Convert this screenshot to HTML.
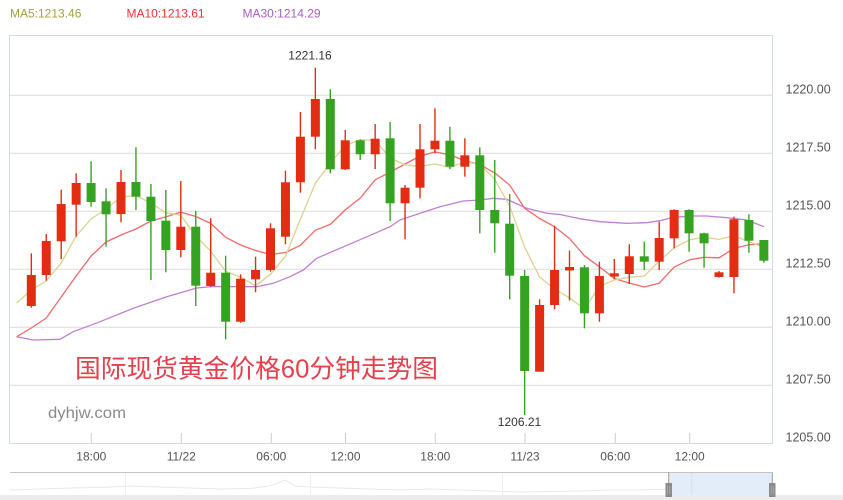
<!DOCTYPE html>
<html>
<head>
<meta charset="utf-8">
<style>
html,body{margin:0;padding:0;background:#fff;}
svg{display:block;}
text{font-family:"Liberation Sans","Noto Sans CJK SC",sans-serif;}
</style>
</head>
<body>
<svg width="843" height="500" viewBox="0 0 843 500" xmlns="http://www.w3.org/2000/svg">
<rect x="0" y="0" width="843" height="500" fill="#fff"/>

<!-- legend -->
<text x="10" y="17.3" font-size="12" fill="#a3a33c">MA5:1213.46</text>
<text x="126.5" y="17.3" font-size="12" fill="#f03232">MA10:1213.61</text>
<text x="242.5" y="17.3" font-size="12" fill="#ad5ec0">MA30:1214.29</text>

<!-- grid -->
<g stroke="#dcdcdc" stroke-width="1">
<line x1="10" y1="95.3" x2="772" y2="95.3"/>
<line x1="10" y1="153.3" x2="772" y2="153.3"/>
<line x1="10" y1="211.3" x2="772" y2="211.3"/>
<line x1="10" y1="269.3" x2="772" y2="269.3"/>
<line x1="10" y1="327.3" x2="772" y2="327.3"/>
<line x1="10" y1="385.3" x2="772" y2="385.3"/>
</g>
<rect x="9.5" y="35.5" width="763" height="408" fill="none" stroke="#d3dae3" stroke-width="1"/>

<!-- x ticks -->
<g stroke="#cccccc" stroke-width="1">
<line x1="91.3" y1="433" x2="91.3" y2="443"/>
<line x1="181.3" y1="433" x2="181.3" y2="443"/>
<line x1="271.3" y1="433" x2="271.3" y2="443"/>
<line x1="345.5" y1="433" x2="345.5" y2="443"/>
<line x1="435.3" y1="433" x2="435.3" y2="443"/>
<line x1="525" y1="433" x2="525" y2="443"/>
<line x1="615.3" y1="433" x2="615.3" y2="443"/>
<line x1="689.7" y1="433" x2="689.7" y2="443"/>
</g>

<!-- y labels -->
<g font-size="12.5" fill="#555">
<text x="785.5" y="93.3">1220.00</text>
<text x="785.5" y="151.5">1217.50</text>
<text x="785.5" y="209.5">1215.00</text>
<text x="785.5" y="267.5">1212.50</text>
<text x="785.5" y="325.5">1210.00</text>
<text x="785.5" y="383.5">1207.50</text>
<text x="785.5" y="441.5">1205.00</text>
</g>

<!-- x labels -->
<g font-size="12" fill="#555" text-anchor="middle">
<text x="91.3" y="460.7">18:00</text>
<text x="181.3" y="460.7">11/22</text>
<text x="271.3" y="460.7">06:00</text>
<text x="345.5" y="460.7">12:00</text>
<text x="435.3" y="460.7">18:00</text>
<text x="525" y="460.7">11/23</text>
<text x="615.3" y="460.7">06:00</text>
<text x="689.7" y="460.7">12:00</text>
</g>

<!-- watermark texts -->
<text x="75" y="377.5" font-size="25.7" fill="#e6404c" textLength="363" lengthAdjust="spacingAndGlyphs">国际现货黄金价格60分钟走势图</text>
<text x="48" y="418" font-size="16" fill="#8a8a8a" textLength="78" lengthAdjust="spacingAndGlyphs">dyhjw.com</text>

<!-- MA30 -->
<polyline fill="none" stroke="#c27fd2" stroke-width="1.3" stroke-linejoin="round" points="16.7,336.7 33.3,340 60,339.3 73.3,331.7 100,321.7 133.3,308.3 166.7,296.7 196.7,288 213.3,286.5 240,286.7 256.7,286.7 273.3,283.3 290,276.7 303.3,270 316.7,258.3 340,248.3 363.3,238.3 390,226.7 400,220 420,213.3 440,206.7 463.3,201 480,200 493.3,198.3 506.7,199.3 526.7,208.3 546.7,213.3 560,214.5 580,218.8 600,221.7 626.7,223.3 646.7,222.7 660,220.7 673.3,217.3 693.3,216 706.7,216 726.7,217.7 746.7,220 764,226.7"/>

<!-- MA10 -->
<polyline fill="none" stroke="#f06a6a" stroke-width="1.3" stroke-linejoin="round" points="16.7,336.7 31.3,328 46.25,318 61.2,297 76.15,276 91.1,256 106.05,242 121,235 135.95,229 150.9,221 165.85,216.9 180.8,212.1 195.75,216.5 210.7,223.4 225.65,237.3 240.6,245 255.55,250.5 270.5,254.5 285.45,252.5 300.4,245.3 315.35,230.2 330.3,224.4 345.25,209.9 360.2,198.1 375.15,179.8 390.1,172.2 405.05,164 420,156.1 434.95,151.9 449.9,154.9 464.85,160.6 479.8,164.6 494.75,172.9 509.7,185.1 524.65,208.3 539.6,218.5 554.55,226.7 569.5,238.5 584.45,255.8 599.4,266.7 614.35,278.5 629.3,283.1 644.25,287 659.2,283.2 674.15,267.1 689.1,259.9 704.05,257.3 719,257.8 733.95,248.4 748.9,244.8 763.85,243.6"/>

<!-- MA5 -->
<polyline fill="none" stroke="#dcd28e" stroke-width="1.3" stroke-linejoin="round" points="16.7,303 31.3,290 46.25,281 61.2,263 76.15,236 91.1,219 106.05,208.9 121,197.1 135.95,195.6 150.9,203.2 165.85,212.8 180.8,215.3 195.75,236 210.7,251.2 225.65,271.4 240.6,277.1 255.55,285.8 270.5,274.3 285.45,256.2 300.4,219.2 315.35,183.3 330.3,163.1 345.25,145.5 360.2,139.9 375.15,140.3 390.1,158 405.05,164.9 420,166.7 434.95,163.9 449.9,167.5 464.85,161.9 479.8,164.4 494.75,179.2 509.7,206.2 524.65,247.1 539.6,277 554.55,289 569.5,297.8 584.45,309 599.4,286.3 614.35,280 629.3,277.2 644.25,276.1 659.2,261.1 674.15,247.9 689.1,239.9 704.05,237.3 719,239.4 733.95,235.6 748.9,241.8 763.85,247.3"/>

<!-- red candles -->
<g fill="#e22d12" stroke="#e22d12" stroke-width="1.4">
<line x1="31.3" y1="253.3" x2="31.3" y2="307.7"/><rect x="26.8" y="275" width="9" height="31" stroke="none"/>
<line x1="46.25" y1="234" x2="46.25" y2="280.7"/><rect x="41.75" y="241" width="9" height="34" stroke="none"/>
<line x1="61.2" y1="189.7" x2="61.2" y2="259"/><rect x="56.7" y="204" width="9" height="37.3" stroke="none"/>
<line x1="76.15" y1="173.3" x2="76.15" y2="236.7"/><rect x="71.65" y="183" width="9" height="21.7" stroke="none"/>
<line x1="121" y1="170" x2="121" y2="222.3"/><rect x="116.5" y="182" width="9" height="32" stroke="none"/>
<line x1="180.8" y1="181" x2="180.8" y2="257.3"/><rect x="176.3" y="226.7" width="9" height="23.3" stroke="none"/>
<line x1="210.7" y1="218.3" x2="210.7" y2="286.7"/><rect x="206.2" y="272.7" width="9" height="13.3" stroke="none"/>
<line x1="240.6" y1="274.3" x2="240.6" y2="322.7"/><rect x="236.1" y="278.7" width="9" height="43" stroke="none"/>
<line x1="255.55" y1="256.7" x2="255.55" y2="292.3"/><rect x="251.05" y="270" width="9" height="9.3" stroke="none"/>
<line x1="270.5" y1="223.3" x2="270.5" y2="271.7"/><rect x="266" y="228.3" width="9" height="41.7" stroke="none"/>
<line x1="285.45" y1="170.7" x2="285.45" y2="244.3"/><rect x="280.95" y="182.3" width="9" height="54.4" stroke="none"/>
<line x1="300.4" y1="112" x2="300.4" y2="192.7"/><rect x="295.9" y="136.7" width="9" height="45.6" stroke="none"/>
<line x1="315.35" y1="67.7" x2="315.35" y2="149.3"/><rect x="310.85" y="99" width="9" height="37.7" stroke="none"/>
<line x1="345.25" y1="130" x2="345.25" y2="170"/><rect x="340.75" y="140.3" width="9" height="29" stroke="none"/>
<line x1="375.15" y1="124" x2="375.15" y2="169"/><rect x="370.65" y="138.7" width="9" height="15.6" stroke="none"/>
<line x1="405.05" y1="185" x2="405.05" y2="239.3"/><rect x="400.55" y="187.7" width="9" height="15.6" stroke="none"/>
<line x1="420" y1="124" x2="420" y2="198.3"/><rect x="415.5" y="149.3" width="9" height="38.4" stroke="none"/>
<line x1="434.95" y1="108.3" x2="434.95" y2="153.3"/><rect x="430.45" y="140.7" width="9" height="8.6" stroke="none"/>
<line x1="464.85" y1="138.3" x2="464.85" y2="176.7"/><rect x="460.35" y="155.3" width="9" height="11.4" stroke="none"/>
<line x1="539.6" y1="299.3" x2="539.6" y2="371.7"/><rect x="535.1" y="305" width="9" height="66.7" stroke="none"/>
<line x1="554.55" y1="225.7" x2="554.55" y2="309.3"/><rect x="550.05" y="270" width="9" height="35" stroke="none"/>
<line x1="569.5" y1="250.5" x2="569.5" y2="300.5"/><rect x="565" y="267" width="9" height="3.5" stroke="none"/>
<line x1="599.4" y1="261.7" x2="599.4" y2="321.7"/><rect x="594.9" y="276" width="9" height="37.3" stroke="none"/>
<line x1="614.35" y1="259" x2="614.35" y2="279"/><rect x="609.85" y="273.3" width="9" height="3.2" stroke="none"/>
<line x1="629.3" y1="244.3" x2="629.3" y2="284"/><rect x="624.8" y="256.3" width="9" height="17.7" stroke="none"/>
<line x1="659.2" y1="221.7" x2="659.2" y2="270"/><rect x="654.7" y="238" width="9" height="23.7" stroke="none"/>
<line x1="674.15" y1="209.3" x2="674.15" y2="248.3"/><rect x="669.65" y="210" width="9" height="28.3" stroke="none"/>
<line x1="719" y1="271" x2="719" y2="277.5"/><rect x="714.5" y="272.3" width="9" height="4.7" stroke="none"/>
<line x1="733.95" y1="216.7" x2="733.95" y2="293.3"/><rect x="729.45" y="219.3" width="9" height="57.7" stroke="none"/>
</g>

<!-- green candles -->
<g fill="#35a321" stroke="#35a321" stroke-width="1.4">
<line x1="91.1" y1="161.3" x2="91.1" y2="206.7"/><rect x="86.6" y="183" width="9" height="19" stroke="none"/>
<line x1="106.05" y1="188.3" x2="106.05" y2="246.7"/><rect x="101.55" y="201.3" width="9" height="13" stroke="none"/>
<line x1="135.95" y1="147.3" x2="135.95" y2="210"/><rect x="131.45" y="182" width="9" height="14.7" stroke="none"/>
<line x1="150.9" y1="184" x2="150.9" y2="280"/><rect x="146.4" y="196.7" width="9" height="24.3" stroke="none"/>
<line x1="165.85" y1="190" x2="165.85" y2="272.3"/><rect x="161.35" y="220.7" width="9" height="29.3" stroke="none"/>
<line x1="195.75" y1="211" x2="195.75" y2="306"/><rect x="191.25" y="226.7" width="9" height="59" stroke="none"/>
<line x1="225.65" y1="255.7" x2="225.65" y2="339.3"/><rect x="221.15" y="272.7" width="9" height="49" stroke="none"/>
<line x1="330.3" y1="89.3" x2="330.3" y2="173.3"/><rect x="325.8" y="99" width="9" height="70.3" stroke="none"/>
<line x1="360.2" y1="139.3" x2="360.2" y2="160"/><rect x="355.7" y="140.3" width="9" height="14" stroke="none"/>
<line x1="390.1" y1="122" x2="390.1" y2="221"/><rect x="385.6" y="138.3" width="9" height="65" stroke="none"/>
<line x1="449.9" y1="126.7" x2="449.9" y2="169"/><rect x="445.4" y="140.7" width="9" height="26" stroke="none"/>
<line x1="479.8" y1="147.3" x2="479.8" y2="233.3"/><rect x="475.3" y="155.3" width="9" height="54.7" stroke="none"/>
<line x1="494.75" y1="160" x2="494.75" y2="252.7"/><rect x="490.25" y="210" width="9" height="13.3" stroke="none"/>
<line x1="509.7" y1="194" x2="509.7" y2="299.3"/><rect x="505.2" y="223.7" width="9" height="52" stroke="none"/>
<line x1="524.65" y1="270" x2="524.65" y2="415"/><rect x="520.15" y="276" width="9" height="95" stroke="none"/>
<line x1="584.45" y1="265" x2="584.45" y2="328.3"/><rect x="579.95" y="267.3" width="9" height="46" stroke="none"/>
<line x1="644.25" y1="241.7" x2="644.25" y2="270"/><rect x="639.75" y="256.3" width="9" height="5.4" stroke="none"/>
<line x1="689.1" y1="209.3" x2="689.1" y2="251.7"/><rect x="684.6" y="210" width="9" height="23.3" stroke="none"/>
<line x1="704.05" y1="232.7" x2="704.05" y2="267.7"/><rect x="699.55" y="233.3" width="9" height="10" stroke="none"/>
<line x1="748.9" y1="214.3" x2="748.9" y2="252.7"/><rect x="744.4" y="220" width="9" height="20.7" stroke="none"/>
<line x1="763.85" y1="240" x2="763.85" y2="262.7"/><rect x="759.35" y="240" width="9" height="20.7" stroke="none"/>
</g>

<!-- max/min labels -->
<text x="310" y="59.3" font-size="12" fill="#333" text-anchor="middle">1221.16</text>
<text x="519.5" y="426" font-size="12" fill="#333" text-anchor="middle">1206.21</text>

<!-- navigator -->
<rect x="0" y="495" width="843" height="5" fill="#ececec"/>
<g stroke="#ececec" stroke-width="1">
<line x1="125.5" y1="473" x2="125.5" y2="495"/>
<line x1="310.5" y1="473" x2="310.5" y2="495"/>
<line x1="502.5" y1="473" x2="502.5" y2="495"/>
</g>
<polyline fill="none" stroke="#e8e8e8" stroke-width="1" points="10,490 40,489 70,488 100,487.5 130,486 160,487 190,488 220,489 250,488.5 270,486 285,480 295,486 310,487 340,488 370,489 400,490 430,489 460,490 490,491 520,492 550,491.5 580,491 610,490 640,490 670,489 700,488.5 730,489 760,489.5 772,489"/>
<rect x="668.7" y="472.5" width="103.6" height="22.5" fill="#e3edf9"/>
<line x1="691.7" y1="473" x2="691.7" y2="495" stroke="#d4dfee" stroke-width="1"/>
<line x1="10" y1="472.5" x2="772" y2="472.5" stroke="#c4c4c4" stroke-width="1"/>
<line x1="668.7" y1="472.5" x2="668.7" y2="495" stroke="#999" stroke-width="1"/>
<line x1="772.3" y1="472.5" x2="772.3" y2="495" stroke="#999" stroke-width="1"/>
<rect x="665.5" y="483" width="6.5" height="14" fill="#8c8c8c"/>
<rect x="769" y="483" width="6.5" height="14" fill="#8c8c8c"/>
<line x1="667.7" y1="486" x2="667.7" y2="494" stroke="#b0b0b0" stroke-width="0.7"/>
<line x1="669.8" y1="486" x2="669.8" y2="494" stroke="#b0b0b0" stroke-width="0.7"/>
<line x1="771.2" y1="486" x2="771.2" y2="494" stroke="#b0b0b0" stroke-width="0.7"/>
<line x1="773.3" y1="486" x2="773.3" y2="494" stroke="#b0b0b0" stroke-width="0.7"/>
</svg>
</body>
</html>
